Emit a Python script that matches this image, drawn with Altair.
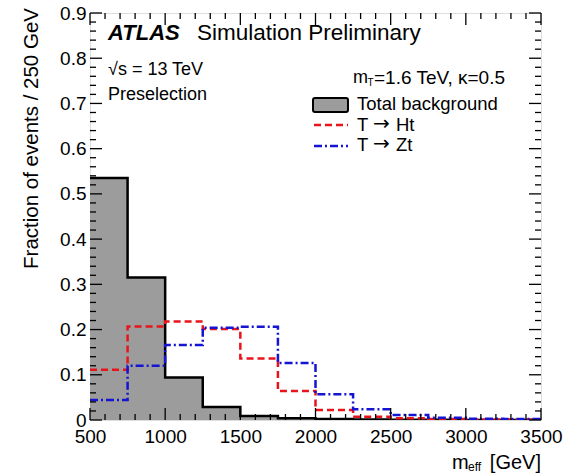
import altair as alt
import pandas as pd

# ---- data ----
bin_edges = [500, 750, 1000, 1250, 1500, 1750, 2000, 2250, 2500, 2750, 3000, 3250]
x_end = 3500
bkg = [0.535, 0.315, 0.094, 0.029, 0.009, 0.004, 0.002, 0.001, 0.0006, 0.0003, 0.0002, 0.0001]
ht = [0.111, 0.207, 0.218, 0.201, 0.136, 0.064, 0.022, 0.007, 0.004, 0.002, 0.001, 0.001]
zt = [0.044, 0.120, 0.166, 0.204, 0.206, 0.126, 0.057, 0.024, 0.011, 0.005, 0.003, 0.002]

x_major = [500, 1000, 1500, 2000, 2500, 3000, 3500]
x_minor = [v for v in range(500, 3501, 100) if v not in x_major]
y_major = [0.0, 0.1, 0.2, 0.3, 0.4, 0.5, 0.6, 0.7, 0.8, 0.9]
y_minor = [round(i * 0.02, 2) for i in range(46) if i % 5 != 0]

W, H = 451, 407
FONT = "Liberation Sans"
GRAY = "#9c9c9c"
RED = "#e8141c"
BLUE = "#1414d2"

def steps(vals, name):
    xs = bin_edges + [x_end]
    ys = vals + [vals[-1]]
    return pd.DataFrame({"x": xs, "y": ys, "s": name})

df = pd.concat([steps(bkg, "bkg"), steps(ht, "ht"), steps(zt, "zt")], ignore_index=True)

xs = alt.Scale(domain=[500, 3500], nice=False, zero=False)
ys = alt.Scale(domain=[0, 0.9], nice=False, zero=False)

xaxis = alt.Axis(values=x_major, ticks=False, domain=False, grid=False, format="d",
                 labelFont=FONT, labelFontSize=19, labelColor="black", labelPadding=7,
                 labelFlush=False, labelOverlap=False, title=None)
yaxis = alt.Axis(values=y_major, ticks=False, domain=False, grid=False, format=".1~f",
                 labelFont=FONT, labelFontSize=19, labelColor="black", labelPadding=4,
                 labelOverlap=False, title=None)

base = alt.Chart(df)

area = base.transform_filter("datum.s == 'bkg'").mark_area(
    interpolate="step-after", color=GRAY, clip=True
).encode(x=alt.X("x:Q", scale=xs, axis=xaxis), y=alt.Y("y:Q", scale=ys, axis=yaxis))

bline = base.transform_filter("datum.s == 'bkg'").mark_line(
    interpolate="step-after", color="black", strokeWidth=2.5, clip=True
).encode(x=alt.X("x:Q", scale=xs), y=alt.Y("y:Q", scale=ys))

hline = base.transform_filter("datum.s == 'ht'").mark_line(
    interpolate="step-after", color=RED, strokeWidth=2.5, strokeDash=[7, 4], clip=True
).encode(x=alt.X("x:Q", scale=xs), y=alt.Y("y:Q", scale=ys))

zline = base.transform_filter("datum.s == 'zt'").mark_line(
    interpolate="step-after", color=BLUE, strokeWidth=2.5, strokeDash=[8, 3, 2, 3], clip=True
).encode(x=alt.X("x:Q", scale=xs), y=alt.Y("y:Q", scale=ys))

def xticks(vals, length, top):
    d = pd.DataFrame({"v": vals})
    if top:
        y1, y2 = 0, length
    else:
        y1, y2 = H, H - length
    return alt.Chart(d).mark_rule(color="black", strokeWidth=1.3).encode(
        x=alt.X("v:Q", scale=xs), y=alt.value(y1), y2=alt.value(y2))

def yticks(vals, length, right):
    d = pd.DataFrame({"v": vals})
    if right:
        x1, x2 = W, W - length
    else:
        x1, x2 = 0, length
    return alt.Chart(d).mark_rule(color="black", strokeWidth=1.3).encode(
        y=alt.Y("v:Q", scale=ys), x=alt.value(x1), x2=alt.value(x2))

tick_layers = [
    xticks(x_major, 12, False), xticks(x_minor, 6, False),
    xticks(x_major, 12, True), xticks(x_minor, 6, True),
    yticks(y_major, 12, False), yticks(y_minor, 6, False),
    yticks(y_major, 12, True), yticks(y_minor, 6, True),
]

def text(t, x, y, size=18, align="left", baseline="middle", weight="normal",
         style="normal", angle=0, font=FONT):
    d = pd.DataFrame({"t": [t]})
    return alt.Chart(d).mark_text(
        font=font, fontSize=size, align=align, baseline=baseline, fontWeight=weight,
        fontStyle=style, angle=angle, color="black"
    ).encode(x=alt.value(x), y=alt.value(y), text="t:N")

texts = [
    text("ATLAS", 18, 27, size=22, weight="bold", style="italic", baseline="alphabetic"),
    text("Simulation Preliminary", 107, 27, size=22.5, baseline="alphabetic"),
    text("√s = 13 TeV", 18, 57, size=18),
    text("Preselection", 18, 82, size=18),
    text("m", 263, 65, size=18),
    text("T", 277.5, 70, size=10),
    text("=1.6 TeV, κ=0.5", 284, 65, size=19),
    text("Total background", 267, 91, size=18.5),
    text("T", 267, 112, size=18.5),
    text("→", 283, 111, size=20, font="DejaVu Sans"),
    text("Ht", 306, 112, size=18.5),
    text("T", 267, 132, size=18.5),
    text("→", 283, 131, size=20, font="DejaVu Sans"),
    text("Zt", 306, 132, size=18.5),
    # axis titles
    text("[GeV]", W, 450, size=20, align="right"),
    text("eff", 378, 454, size=12),
    text("m", 362, 450, size=20),
    text("Fraction of events / 250 GeV", -58, -5, size=20.5, align="right", angle=270),
]

one = pd.DataFrame({"a": [0]})
leg_box = alt.Chart(one).mark_rect(fill=GRAY, stroke="black", strokeWidth=2, cornerRadius=2).encode(
    x=alt.value(223), x2=alt.value(258), y=alt.value(85), y2=alt.value(99))
leg_red = alt.Chart(one).mark_rule(color=RED, strokeWidth=2.5, strokeDash=[7, 4]).encode(
    x=alt.value(224), x2=alt.value(258), y=alt.value(112))
leg_blue = alt.Chart(one).mark_rule(color=BLUE, strokeWidth=2.5, strokeDash=[8, 3, 2, 3]).encode(
    x=alt.value(224), x2=alt.value(258), y=alt.value(133))

chart = alt.layer(
    area, bline, hline, zline, *tick_layers, leg_box, leg_red, leg_blue, *texts
).properties(
    width=W, height=H,
    autosize=alt.AutoSizeParams(type="none"),
    padding={"left": 90, "top": 13, "right": 40, "bottom": 54},
).configure_view(stroke="black", strokeWidth=1.5).configure(background="white")

chart.save("out.html", embed_options={"renderer": "svg", "actions": False})
